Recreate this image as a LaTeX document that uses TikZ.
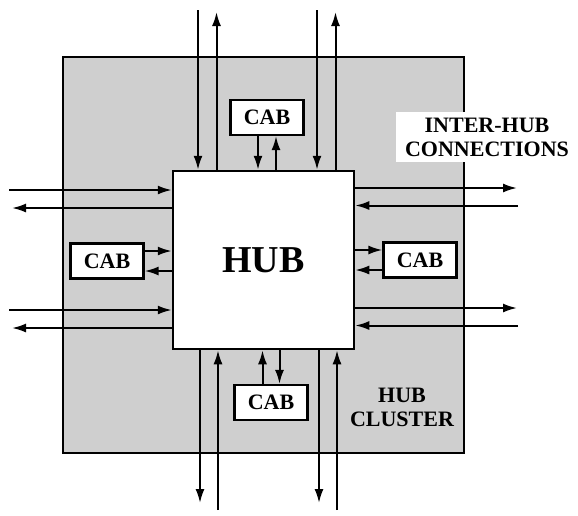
\documentclass[tikz,border=0pt]{standalone}
\usepackage{fontspec}
\setmainfont{Liberation Serif}
\usepackage{tikz}
\usetikzlibrary{arrows.meta}

\begin{document}
\begin{tikzpicture}[x=1pt, y=-1pt, >={Latex[length=14pt,width=9pt]},
  link/.style={->, line width=2pt},
  cab/.style={draw, line width=2.2pt, fill=white, minimum width=73pt,
    minimum height=35pt, inner sep=0pt, font=\bfseries\fontsize{22}{22}\selectfont},
  lbl/.style={align=center, font=\bfseries\fontsize{22}{24}\selectfont}]
  \useasboundingbox (0,0) rectangle (578,515);
  % hub cluster and the hub
  \node[draw, line width=2.5pt, fill=gray!38, minimum width=401pt, minimum height=396pt] (cluster) at (263.5,255) {};
  \node[lbl, fill=white, inner xsep=9pt, inner ysep=6pt] (interhub) at (487,137) {INTER-HUB\\CONNECTIONS};
  \node[lbl] (clusterlbl) at (402,407) {HUB\\CLUSTER};
  \node[draw, line width=2.5pt, fill=white, minimum width=181pt, minimum height=178pt,
    font=\bfseries\fontsize{38}{38}\selectfont] (hub) at (263.5,260) {HUB};
  % the four CABs
  \node[cab] (cabt) at (267,117.5) {CAB};
  \node[cab] (cabl) at (107,261) {CAB};
  \node[cab] (cabr) at (420,260) {CAB};
  \node[cab] (cabb) at (271,402.5) {CAB};
  \draw[link] ([xshift=-9pt]cabt.south) -- ([xshift=-9pt]cabt.south |- hub.north);
  \draw[link] ([xshift=9pt]cabt.south |- hub.north) -- ([xshift=9pt]cabt.south);
  \draw[link] ([yshift=10pt]cabl.east) -- ([yshift=10pt]cabl.east -| hub.west);
  \draw[link] ([yshift=-10pt]cabl.east -| hub.west) -- ([yshift=-10pt]cabl.east);
  \draw[link] ([yshift=10pt]cabr.west -| hub.east) -- ([yshift=10pt]cabr.west);
  \draw[link] ([yshift=-10pt]cabr.west) -- ([yshift=-10pt]cabr.west -| hub.east);
  \draw[link] ([xshift=-8.5pt]cabb.north) -- ([xshift=-8.5pt]cabb.north |- hub.south);
  \draw[link] ([xshift=8.5pt]cabb.north |- hub.south) -- ([xshift=8.5pt]cabb.north);
  % inter-hub connections
  \foreach \i/\x in {1/198, 2/317} {
    \coordinate (nin\i) at (\x,10);
    \coordinate (nout\i) at (\x+18.5,12);
    \draw[link] (nin\i) -- (nin\i |- hub.north);
    \draw[link] (nout\i |- hub.north) -- (nout\i);
  }
  \foreach \i/\x in {1/200, 2/319} {
    \coordinate (sout\i) at (\x,503);
    \coordinate (sin\i) at (\x+18,510);
    \draw[link] (sout\i |- hub.south) -- (sout\i);
    \draw[link] (sin\i) -- (sin\i |- hub.south);
  }
  \foreach \i/\y in {1/190, 2/310} {
    \coordinate (win\i) at (9,\y);
    \coordinate (wout\i) at (12,\y+18);
    \draw[link] (win\i) -- (win\i -| hub.west);
    \draw[link] (wout\i -| hub.west) -- (wout\i);
  }
  \foreach \i/\y in {1/188, 2/308} {
    \coordinate (eout\i) at (517,\y);
    \coordinate (ein\i) at (518,\y+17.5);
    \draw[link] (eout\i -| hub.east) -- (eout\i);
    \draw[link] (ein\i) -- (ein\i -| hub.east);
  }
\end{tikzpicture}
\end{document}
